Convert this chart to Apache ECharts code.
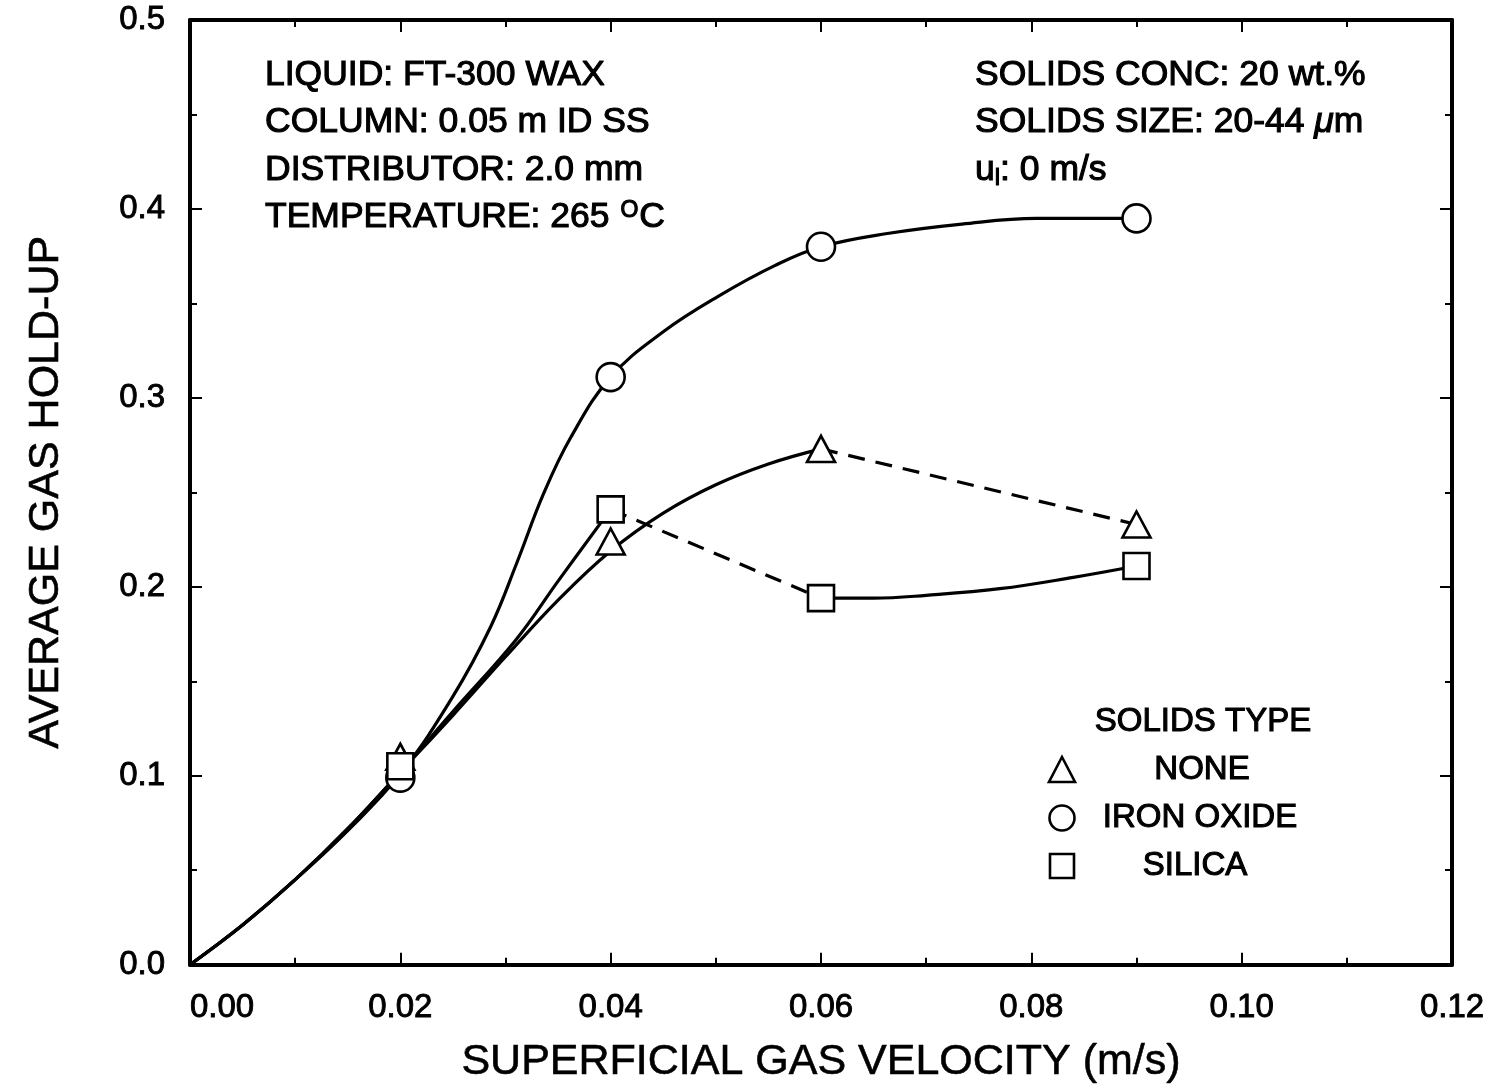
<!DOCTYPE html>
<html>
<head>
<meta charset="utf-8">
<style>
  html, body { margin: 0; padding: 0; background: #fff; }
  #chart { width: 1496px; height: 1089px; }
</style>
<script src="https://cdn.jsdelivr.net/npm/echarts@6/dist/echarts.min.js"></script>
</head>
<body>
<div id="chart"></div>
<script>
// ---------- data ----------
const xTickLabels = ['0.00', '0.02', '0.04', '0.06', '0.08', '0.10', '0.12'];
const yTickLabels = ['0.0', '0.1', '0.2', '0.3', '0.4', '0.5'];

const markerX  = [0.02, 0.04, 0.06, 0.09];
const noneY    = [0.110, 0.224, 0.273, 0.233];
const ironY    = [0.099, 0.311, 0.380, 0.395];
const silicaY  = [0.105, 0.241, 0.194, 0.211];

// fitted curves
const ironCurveX = [0, 0.005, 0.01, 0.015, 0.02, 0.025, 0.0286, 0.0311, 0.0336, 0.0362, 0.04, 0.045, 0.0503, 0.0556, 0.06, 0.0663, 0.0734, 0.0805, 0.09];
const ironCurveY = [0, 0.021, 0.045, 0.071, 0.101, 0.142, 0.179, 0.213, 0.249, 0.279, 0.311, 0.335, 0.354, 0.370, 0.380, 0.387, 0.392, 0.395, 0.395];

const noneCurveX = [0, 0.005, 0.01, 0.015, 0.02, 0.025, 0.03, 0.035, 0.04, 0.045, 0.05, 0.055, 0.06];
const noneCurveY = [0, 0.021, 0.045, 0.072, 0.102, 0.132, 0.163, 0.193, 0.219, 0.239, 0.254, 0.265, 0.273];

const silicaCurve1X = [0, 0.005, 0.01, 0.015, 0.02, 0.025, 0.031, 0.035, 0.04];
const silicaCurve1Y = [0, 0.021, 0.045, 0.072, 0.102, 0.134, 0.172, 0.203, 0.241];

const silicaCurve2X = [0.06, 0.065, 0.07, 0.077, 0.084, 0.09];
const silicaCurve2Y = [0.194, 0.194, 0.1955, 0.199, 0.205, 0.211];

const noteLeft = [
  'LIQUID: FT-300 WAX',
  'COLUMN: 0.05 m ID SS',
  'DISTRIBUTOR: 2.0 mm',
  'TEMPERATURE: 265 {sup|O}C'
];
const noteRight = [
  'SOLIDS CONC: 20 wt.%',
  'SOLIDS SIZE: 20-44 {it|\u03bc}m',
  'u{sub|l}: 0 m/s'
];
const legendTitle = 'SOLIDS TYPE';
const legendNames = ['NONE', 'IRON OXIDE', 'SILICA'];

// ---------- helpers ----------
const zip = (xs, ys) => xs.map((x, i) => [x, ys[i]]);
const FONT = '"Liberation Sans", Arial, Helvetica, sans-serif';
const INK = '#000';

const chart = echarts.init(document.getElementById('chart'), null, { renderer: 'canvas' });

const lineBase = (name, data, dashed) => ({
  name, type: 'line', data, smooth: dashed ? false : 0.4,
  showSymbol: false, symbol: 'none', silent: true, z: 3,
  lineStyle: { color: INK, width: 3.2, type: dashed ? [17, 11] : 'solid' }
});
const markerBase = (name, symbol, size, ys) => ({
  name, type: 'scatter', data: zip(markerX, ys), symbol, symbolSize: size, z: 5,
  itemStyle: { color: '#fff', borderColor: INK, borderWidth: 2.6, opacity: 1 }
});

const axisCommon = {
  type: 'value',
  axisLine: { show: true, onZero: false, lineStyle: { color: INK, width: 4 } },
  axisTick: { show: true, inside: true, length: 12, lineStyle: { color: INK, width: 2 } },
  minorTick: { show: true, splitNumber: 2, length: 7, lineStyle: { color: INK, width: 2 } },
  splitLine: { show: false },
  minorSplitLine: { show: false }
};

const labelInk = { color: INK, fontFamily: FONT, textBorderColor: INK, textBorderWidth: 0.9 };
const textStyleBase = { fill: INK, fontFamily: FONT, stroke: INK, lineWidth: 1.1 };
const NOTE_SIZE = 35.5;

const graphics = [];
noteLeft.forEach((t, i) => {
  graphics.push({
    type: 'text', x: 265, y: 75 + i * 47.5, silent: true,
    style: Object.assign({}, textStyleBase, {
      text: t, fontSize: NOTE_SIZE, align: 'left', verticalAlign: 'middle',
      rich: {
        sup: { fontSize: 23, fontFamily: FONT, fill: INK, stroke: INK, lineWidth: 1.1, verticalAlign: 'top', padding: [0, 1, 14, 1] }
      }
    })
  });
});
noteRight.forEach((t, i) => {
  graphics.push({
    type: 'text', x: 975, y: 75 + i * 47.5, silent: true,
    style: Object.assign({}, textStyleBase, {
      text: t, fontSize: NOTE_SIZE, align: 'left', verticalAlign: 'middle',
      rich: {
        it: { fontSize: NOTE_SIZE, fontFamily: FONT, fill: INK, stroke: INK, lineWidth: 1.1, fontStyle: 'italic' },
        sub: { fontSize: 24, fontFamily: FONT, fill: INK, stroke: INK, lineWidth: 1.1, padding: [16, 0, 0, 0] }
      }
    })
  });
});
// legend
graphics.push({
  type: 'text', x: 1203, y: 722, silent: true,
  style: Object.assign({}, textStyleBase, { text: legendTitle, fontSize: 33, align: 'center', verticalAlign: 'middle' })
});
const legendTextX = [1202, 1200, 1195];
legendNames.forEach((t, i) => {
  graphics.push({
    type: 'text', x: legendTextX[i], y: 770 + i * 48, silent: true,
    style: Object.assign({}, textStyleBase, { text: t, fontSize: 33, align: 'center', verticalAlign: 'middle' })
  });
});
const symStyle = { fill: '#fff', stroke: INK, lineWidth: 2.6 };
graphics.push({ type: 'polygon', silent: true, shape: { points: [[1062, 757], [1075, 782], [1049, 782]] }, style: symStyle });
graphics.push({ type: 'circle', silent: true, shape: { cx: 1062, cy: 818, r: 12.5 }, style: symStyle });
graphics.push({ type: 'rect', silent: true, shape: { x: 1050, y: 854, width: 24, height: 24 }, style: symStyle });

const option = {
  backgroundColor: '#fff',
  animation: false,
  textStyle: { fontFamily: FONT, color: INK },
  grid: { left: 190, right: 44, top: 20, bottom: 118, containLabel: false },
  xAxis: [
    Object.assign({}, axisCommon, {
      position: 'bottom', min: 0, max: 0.12, interval: 0.02,
      name: 'SUPERFICIAL GAS VELOCITY (m/s)', nameLocation: 'middle', nameGap: 76,
      nameTextStyle: Object.assign({ fontSize: 43 }, labelInk, { textBorderWidth: 0.6 }),
      axisLabel: Object.assign({
        fontSize: 33, margin: 27,
        alignMinLabel: 'left',
        formatter: v => xTickLabels[Math.round(v / 0.02)]
      }, labelInk)
    }),
    Object.assign({}, axisCommon, {
      position: 'top', min: 0, max: 0.12, interval: 0.02,
      axisLabel: { show: false }
    })
  ],
  yAxis: [
    Object.assign({}, axisCommon, {
      position: 'left', min: 0, max: 0.5, interval: 0.1,
      name: 'AVERAGE GAS HOLD-UP', nameLocation: 'middle', nameGap: 122,
      nameTextStyle: Object.assign({ fontSize: 43 }, labelInk, { textBorderWidth: 0.6 }),
      axisLabel: Object.assign({
        fontSize: 33, margin: 25,
        formatter: v => yTickLabels[Math.round(v / 0.1)]
      }, labelInk)
    }),
    Object.assign({}, axisCommon, {
      position: 'right', min: 0, max: 0.5, interval: 0.1,
      axisLabel: { show: false }
    })
  ],
  series: [
    lineBase('iron curve', zip(ironCurveX, ironCurveY), false),
    lineBase('none curve', zip(noneCurveX, noneCurveY), false),
    lineBase('none dashed', zip(markerX.slice(2, 4), noneY.slice(2, 4)), true),
    lineBase('silica curve 1', zip(silicaCurve1X, silicaCurve1Y), false),
    lineBase('silica dashed', zip(markerX.slice(1, 3), silicaY.slice(1, 3)), true),
    lineBase('silica curve 2', zip(silicaCurve2X, silicaCurve2Y), false),
    markerBase('NONE', 'triangle', [28, 26], noneY),
    markerBase('IRON OXIDE', 'circle', 28, ironY),
    markerBase('SILICA', 'rect', 26, silicaY)
  ],
  graphic: graphics
};

chart.setOption(option);
</script>
</body>
</html>
